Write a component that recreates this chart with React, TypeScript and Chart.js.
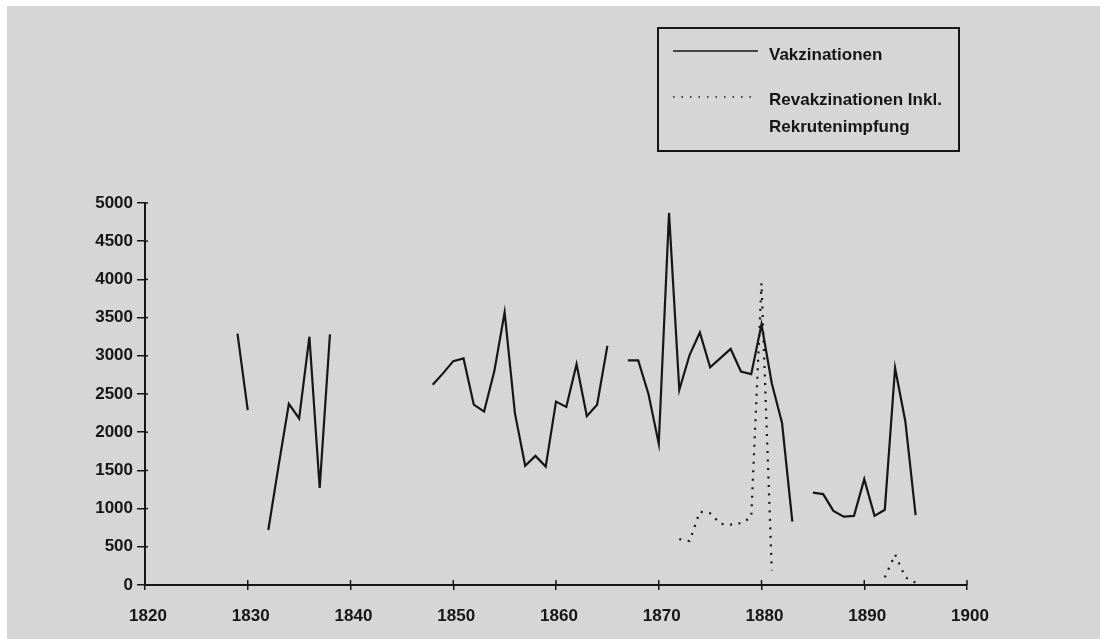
import React, { useEffect, useRef } from "react";
import { Chart, registerables } from "chart.js";

Chart.register(...registerables);

// ---- data ----
const years = [
  1829, 1830, 1831, 1832, 1833, 1834, 1835, 1836, 1837, 1838, 1839,
  1840, 1841, 1842, 1843, 1844, 1845, 1846, 1847, 1848, 1849,
  1850, 1851, 1852, 1853, 1854, 1855, 1856, 1857, 1858, 1859,
  1860, 1861, 1862, 1863, 1864, 1865, 1866, 1867, 1868, 1869,
  1870, 1871, 1872, 1873, 1874, 1875, 1876, 1877, 1878, 1879,
  1880, 1881, 1882, 1883, 1884, 1885, 1886, 1887, 1888, 1889,
  1890, 1891, 1892, 1893, 1894, 1895,
];

const vakzinationen: (number | null)[] = [
  3290, 2290, null, 720, 1560, 2370, 2180, 3250, 1270, 3280, null,
  null, null, null, null, null, null, null, null, 2620, 2770,
  2930, 2965, 2360, 2270, 2800, 3570, 2250, 1560, 1690, 1550,
  2400, 2330, 2890, 2210, 2360, 3130, null, 2940, 2940, 2500,
  1850, 4870, 2555, 3010, 3305, 2850, 2970, 3090, 2795, 2760,
  3410, 2640, 2120, 830, null, 1210, 1190, 970, 895, 905,
  1385, 905, 985, 2840, 2140, 915,
];

const revakzinationen: (number | null)[] = [
  null, null, null, null, null, null, null, null, null, null, null,
  null, null, null, null, null, null, null, null, null, null,
  null, null, null, null, null, null, null, null, null, null,
  null, null, null, null, null, null, null, null, null, null,
  null, null, 600, 575, 960, 940, 800, 790, 810, 885,
  3950, 190, null, null, null, null, null, null, null, null,
  null, null, 100, 400, 100, 30,
];

const seriesLabels = ["Vakzinationen", "Revakzinationen Inkl.|Rekrutenimpfung"];

const xTickMin = 1820;
const xTickMax = 1900;
const xStep = 10;
const yTickMin = 0;
const yTickMax = 5000;
const yStep = 500;

const INK = "#161616";
const PAPER = "#d6d6d6";
const FONT = "'Liberation Sans', Arial, Helvetica, sans-serif";

const crossTicks = {
  id: "crossTicks",
  afterDraw(chart: any) {
    const { ctx, chartArea, scales } = chart;
    ctx.save();
    ctx.strokeStyle = INK;
    ctx.lineWidth = 1.5;
    scales.x.ticks.forEach((t: any) => {
      const px = scales.x.getPixelForValue(t.value);
      ctx.beginPath();
      ctx.moveTo(px, chartArea.bottom);
      ctx.lineTo(px, chartArea.bottom - 5);
      ctx.stroke();
    });
    scales.y.ticks.forEach((t: any) => {
      const py = scales.y.getPixelForValue(t.value);
      ctx.beginPath();
      ctx.moveTo(chartArea.left, py);
      ctx.lineTo(chartArea.left + 3, py);
      ctx.stroke();
    });
    ctx.restore();
  },
};

function Legend() {
  const textStyle: React.CSSProperties = {
    position: "absolute",
    left: 110,
    fontFamily: FONT,
    fontSize: 17,
    fontWeight: "bold",
    color: INK,
    lineHeight: "27px",
    whiteSpace: "nowrap",
  };
  const lines2 = seriesLabels[1].split("|");
  return (
    <div
      style={{
        position: "absolute",
        left: 657,
        top: 27,
        width: 299,
        height: 121,
        border: `2px solid ${INK}`,
      }}
    >
      <svg style={{ position: "absolute", left: 0, top: 0 }} width={299} height={121}>
        <line x1={14} x2={99} y1={22} y2={22} stroke={INK} strokeWidth={1.5} />
        <line x1={14} x2={99} y1={68} y2={68} stroke={INK} strokeWidth={1.5} strokeDasharray="1.5 7" />
      </svg>
      <div style={{ ...textStyle, top: 12 }}>{seriesLabels[0]}</div>
      <div style={{ ...textStyle, top: 57 }}>
        {lines2[0]}
        <br />
        {lines2[1]}
      </div>
    </div>
  );
}

export default function App() {
  const ref = useRef<HTMLCanvasElement | null>(null);

  useEffect(() => {
    if (!ref.current) return;
    const toPoints = (vals: (number | null)[]) =>
      years.map((yr, i) => ({ x: yr, y: vals[i] }));
    const tickFont = { family: FONT, size: 17, weight: "bold" as const };
    const chart = new Chart(ref.current, {
      type: "line",
      data: {
        datasets: [
          {
            label: seriesLabels[0],
            data: toPoints(vakzinationen) as any,
            borderColor: INK,
            borderWidth: 2.2,
            pointRadius: 0,
            tension: 0,
            spanGaps: false,
          },
          {
            label: seriesLabels[1],
            data: toPoints(revakzinationen) as any,
            borderColor: INK,
            borderWidth: 2.2,
            borderDash: [2, 6.5],
            pointRadius: 0,
            tension: 0,
            spanGaps: false,
          },
        ],
      },
      options: {
        responsive: false,
        animation: false,
        devicePixelRatio: 1,
        layout: { padding: { left: 0, right: 133, top: 203, bottom: 14 } },
        plugins: {
          legend: { display: false },
          tooltip: { enabled: false },
        },
        scales: {
          x: {
            type: "linear",
            min: xTickMin,
            max: xTickMax,
            ticks: {
              stepSize: xStep,
              callback: (v: any) => String(v),
              color: INK,
              font: tickFont,
              padding: 16,
              maxRotation: 0,
              labelOffset: 3,
            },
            grid: {
              drawOnChartArea: false,
              drawTicks: true,
              tickLength: 5,
              color: INK,
              lineWidth: 1.5,
            },
            border: { display: true, color: INK, width: 2 },
            afterFit: (s: any) => {
              s.height = 40;
            },
          },
          y: {
            type: "linear",
            min: yTickMin,
            max: yTickMax,
            ticks: {
              stepSize: yStep,
              callback: (v: any) => String(v),
              color: INK,
              font: tickFont,
              padding: 4,
            },
            grid: {
              drawOnChartArea: false,
              drawTicks: true,
              tickLength: 8,
              color: INK,
              lineWidth: 1.5,
            },
            border: { display: true, color: INK, width: 2 },
            afterFit: (s: any) => {
              s.width = 145;
            },
          },
        },
      },
      plugins: [crossTicks],
    });
    return () => chart.destroy();
  }, []);

  return (
    <div
      style={{
        position: "fixed",
        left: 0,
        top: 0,
        width: 1100,
        height: 639,
        background: "#ffffff",
        overflow: "hidden",
      }}
    >
      <div
        style={{
          position: "absolute",
          left: 7,
          top: 6,
          right: 0,
          bottom: 0,
          background: PAPER,
        }}
      />
      <canvas
        ref={ref}
        width={1100}
        height={639}
        style={{ position: "absolute", left: 0, top: 0, width: 1100, height: 639 }}
      />
      <Legend />
    </div>
  );
}
